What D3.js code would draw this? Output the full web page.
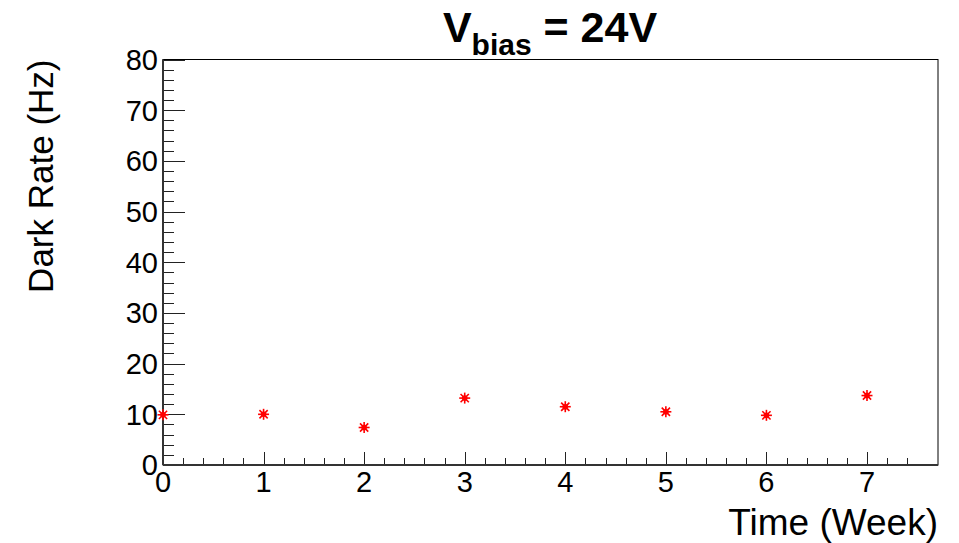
<!doctype html>
<html lang="en">
<head>
    <meta charset="UTF-8">
    <title>Dark rate</title>
    <script src="https://d3js.org/d3.v7.min.js"></script>
    <style>
        body { margin: 0; background: #fff; }
        text { font-family: "Liberation Sans", Arial, sans-serif; fill: #000; }
    </style>
</head>
<body>
<div class="canvas"></div>
</body>

<script>
  // data
  const weeks = [0, 1, 2, 3, 4, 5, 6, 7];
  const darkRate = [9.9, 10.0, 7.4, 13.2, 11.5, 10.5, 9.8, 13.7];
  const xTicks = [0, 1, 2, 3, 4, 5, 6, 7];
  const yTicks = [0, 10, 20, 30, 40, 50, 60, 70, 80];

  const width = 959, height = 543;
  const padL = 163, padR = 938, padT = 59.5, padB = 465;

  const x = d3.scaleLinear().domain([0, 7.706]).range([padL, padR]);
  const y = d3.scaleLinear().domain([0, 80]).range([padB, padT]);

  const svg = d3.select('.canvas')
    .append('svg')
    .attr('width', width)
    .attr('height', height)

  // frame
  svg.append('rect')
    .attr('x', padL).attr('y', padT)
    .attr('width', padR - padL).attr('height', padB - padT)
    .attr('fill', 'none')
    .attr('stroke', '#000')
    .attr('stroke-width', 1)

  // y axis ticks (inward)
  const yMinor = d3.range(0, 80.01, 2);
  svg.append('g').selectAll('line')
    .data(yMinor)
    .join('line')
    .attr('x1', padL)
    .attr('x2', d => padL + (d % 10 === 0 ? 22 : 11))
    .attr('y1', d => Math.round(y(d)) + 0.5)
    .attr('y2', d => Math.round(y(d)) + 0.5)
    .attr('stroke', '#222')
    .attr('stroke-width', 1)

  svg.append('g').selectAll('text')
    .data(yTicks)
    .join('text')
    .attr('x', padL - 5)
    .attr('y', d => y(d))
    .attr('dy', '0.36em')
    .attr('text-anchor', 'end')
    .attr('font-size', '29px')
    .text(d => d)

  // x axis ticks (upward)
  const xMinor = d3.range(0, 38).map(i => i * 0.2);
  svg.append('g').selectAll('line')
    .data(xMinor)
    .join('line')
    .attr('x1', d => Math.round(x(d)) + 0.5)
    .attr('x2', d => Math.round(x(d)) + 0.5)
    .attr('y1', padB)
    .attr('y2', d => padB - (Math.abs(d - Math.round(d)) < 1e-6 ? 13 : 7))
    .attr('stroke', '#222')
    .attr('stroke-width', 1)

  svg.append('g').selectAll('text')
    .data(xTicks)
    .join('text')
    .attr('x', d => x(d))
    .attr('y', 492)
    .attr('text-anchor', 'middle')
    .attr('font-size', '29px')
    .text(d => d)

  // axis lines a bit heavier
  svg.append('line')
    .attr('x1', padL).attr('x2', padL).attr('y1', padT).attr('y2', padB)
    .attr('stroke', '#333').attr('stroke-width', 2)
  svg.append('line')
    .attr('x1', padL).attr('x2', padR).attr('y1', padB).attr('y2', padB)
    .attr('stroke', '#333').attr('stroke-width', 2)

  // axis titles
  svg.append('text')
    .attr('transform', `translate(53, ${padT}) rotate(-90)`)
    .attr('text-anchor', 'end')
    .attr('font-size', '35px')
    .text('Dark Rate (Hz)')

  svg.append('text')
    .attr('x', padR)
    .attr('y', 535)
    .attr('text-anchor', 'end')
    .attr('font-size', '37px')
    .text('Time (Week)')

  // title
  const title = svg.append('text')
    .attr('x', 550)
    .attr('y', 42)
    .attr('text-anchor', 'middle')
    .attr('font-weight', 'bold')
    .attr('font-size', '43px')
  title.append('tspan').text('V')
  title.append('tspan').attr('font-size', '30px').attr('dy', 13).text('bias')
  title.append('tspan').attr('dy', -13).text(' = 24V')

  // asterisk markers
  const pts = weeks.map((w, i) => [x(w), y(darkRate[i])]);
  const star = svg.append('g').selectAll('g')
    .data(pts)
    .join('g')
    .attr('transform', d => `translate(${d[0]}, ${d[1]})`)
  const r = 5.5;
  const arms = [[-r, 0, r, 0], [0, -r, 0, r], [-r * 0.75, -r * 0.75, r * 0.75, r * 0.75], [-r * 0.75, r * 0.75, r * 0.75, -r * 0.75]];
  arms.forEach(a => {
    star.append('line')
      .attr('x1', a[0]).attr('y1', a[1]).attr('x2', a[2]).attr('y2', a[3])
      .attr('stroke', '#ff0000')
      .attr('stroke-width', 1.6)
  })
  star.append('circle').attr('r', 2.8).attr('fill', '#ff0000')
</script>
</html>
